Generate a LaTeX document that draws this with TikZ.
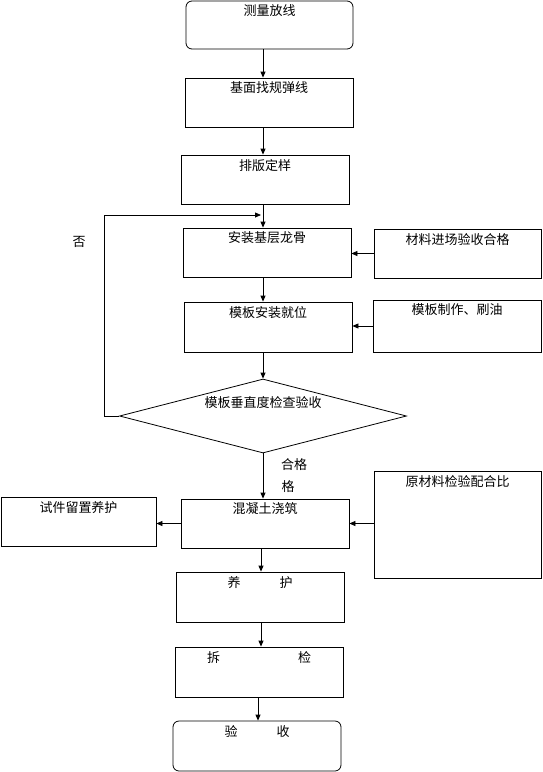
\documentclass[tikz,border=0pt]{standalone}
\usepackage{fontspec}
\setmainfont{Noto Sans CJK SC}
\usetikzlibrary{arrows.meta,shapes.geometric}
\begin{document}
\begin{tikzpicture}[x=1pt,y=-1pt,line width=0.8pt,
  box/.style={draw,minimum width=168pt,minimum height=49pt,inner sep=0pt},
  rbox/.style={box,rounded corners=6pt},
  txt/.style={font=\fontsize{13}{15}\selectfont,inner sep=0pt,anchor=north},
  arr/.style={-{Triangle[length=6pt,width=5pt]}},
  lbl/.style={font=\fontsize{13}{15}\selectfont,inner sep=0pt}]
\useasboundingbox (0,0) rectangle (542,772);
% main column
\node[rbox,minimum width=167pt,minimum height=48pt] (b1) at (269.5,25) {};
\node[txt] at (b1.north) [yshift=-4pt] {测量放线};
\node[box] (b2) at (269,102.5) {};
\node[txt] at (b2.north) [yshift=-4pt] {基面找规弹线};
\node[box] (b3) at (265,179.5) {};
\node[txt] at (b3.north) [yshift=-4pt] {排版定样};
\node[box] (b4) at (267,252.5) {};
\node[txt] at (b4.north) [yshift=-4pt] {安装基层龙骨};
\node[box,minimum width=167pt] (r4) at (457.5,253.5) {};
\node[txt] at (r4.north) [yshift=-4pt] {材料进场验收合格};
\node[box,minimum height=50pt] (b5) at (268,327) {};
\node[txt] at (b5.north) [yshift=-4pt] {模板安装就位};
\node[box,minimum height=52pt] (r5) at (457,326) {};
\node[txt] at (r5.north) [yshift=-4pt] {模板制作、刷油};
\node[draw,diamond,minimum width=287pt,minimum height=74pt,inner sep=0pt] (d) at (263,416) {};
\node[txt] at (263,396) {模板垂直度检查验收};
\node[box] (b6) at (265,523.5) {};
\node[txt] at (b6.north) [yshift=-4pt] {混凝土浇筑};
\node[box,minimum width=167pt,minimum height=107pt] (r6) at (457.5,524.5) {};
\node[txt] at (r6.north) [yshift=-4pt] {原材料检验配合比};
\node[box,minimum width=155pt] (l6) at (78.5,521.5) {};
\node[txt] at (l6.north) [yshift=-4pt] {试件留置养护};
\node[box,minimum height=50pt] (b7) at (260,597) {};
\node[txt] at (b7.north) [yshift=-4pt] {养\hspace{3em}护};
\node[box,minimum height=50pt] (b8) at (259,672) {};
\node[txt] at (b8.north) [yshift=-4pt] {拆\hspace{6em}检};
\node[rbox,minimum height=50pt] (b9) at (257,746) {};
\node[txt] at (b9.north) [yshift=-4pt] {验\hspace{3em}收};
% labels
\node[lbl] (no) at (79,242) {否};
\node[lbl] (ok) at (294,465) {合格};
\node[lbl] (ok2) at (288,487) {格};
% helper coordinates
\coordinate (x263) at (263,0);
\coordinate (x261) at (261,0);
\coordinate (x258) at (258,0);
\coordinate (lp) at (104,416);
\coordinate (lt) at (261,215);
% connectors
\draw[arr] (b1.south -| x263) -- (b2.north -| x263);
\draw[arr] (b2.south -| x263) -- (b3.north -| x263);
\draw[arr] (b3.south -| x263) -- (b4.north -| x263);
\draw[arr] (b4.south -| x263) -- (b5.north -| x263);
\draw[arr] (b5.south -| x263) -- (d.north);
\draw[arr] (d.south) -- (b6.north -| x263);
\draw[arr] (b6.south -| x261) -- (b7.north -| x261);
\draw[arr] (b7.south -| x261) -- (b8.north -| x261);
\draw[arr] (b8.south -| x258) -- (b9.north -| x258);
\draw[arr] (d.west) -- (lp) |- (lt);
\draw[arr] (r4.west) -- (b4.east |- r4.west);
\draw[arr] (r5.west) -- (b5.east |- r5.west);
\draw[arr] (r6.west |- b6.east) -- (b6.east);
\draw[arr] (b6.west) -- (l6.east |- b6.west);
\end{tikzpicture}
\end{document}
